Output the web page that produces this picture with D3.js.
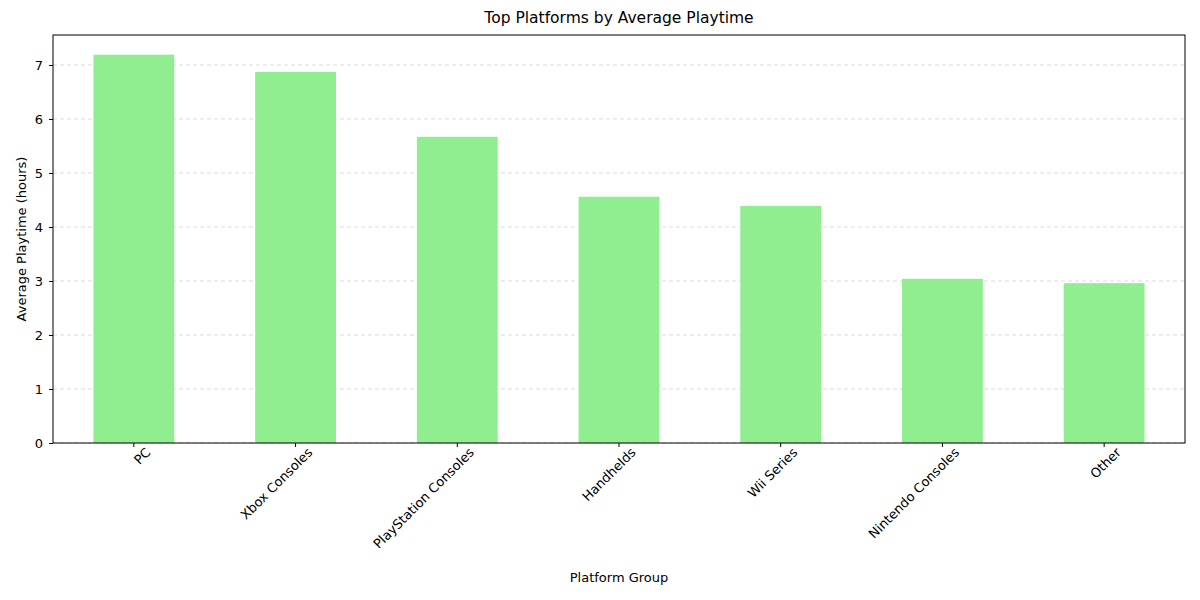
<!DOCTYPE html>
<html>
<head>
<meta charset="utf-8">
<script src="https://unpkg.com/d3@7/dist/d3.min.js"></script>
<style>
  body { margin: 0; background: #fff; }
  text { font-family: "DejaVu Sans", sans-serif; }
</style>
</head>
<body>
<div id="chart"></div>
<script>
  var platforms = ["PC", "Xbox Consoles", "PlayStation Consoles", "Handhelds", "Wii Series", "Nintendo Consoles", "Other"];
  var playtime = [7.19, 6.87, 5.67, 4.56, 4.39, 3.04, 2.96];
  var yTicks = [0, 1, 2, 3, 4, 5, 6, 7];

  var width = 1200, height = 600;
  var m = { left: 53, right: 15, top: 35, bottom: 157 };

  var svg = d3.select("#chart").append("svg")
    .attr("width", width).attr("height", height);

  var x = d3.scaleBand().domain(platforms)
    .range([m.left, width - m.right])
    .paddingInner(0.5).paddingOuter(0.25);
  var y = d3.scaleLinear().domain([0, 7.555])
    .range([height - m.bottom, m.top]);

  // grid
  svg.append("g").selectAll("line").data(yTicks).enter().append("line")
    .attr("x1", m.left).attr("x2", width - m.right)
    .attr("y1", d => y(d)).attr("y2", d => y(d))
    .style("stroke", "#d0d0d0").style("stroke-dasharray", "4 3").style("stroke-width", 0.8);

  // bars
  svg.append("g").selectAll("rect").data(platforms).enter().append("rect")
    .attr("x", d => x(d))
    .attr("width", x.bandwidth())
    .attr("y", (d, i) => y(playtime[i]))
    .attr("height", (d, i) => y(0) - y(playtime[i]))
    .style("fill", "#90ee90");

  // frame
  svg.append("rect")
    .attr("x", m.left).attr("y", m.top)
    .attr("width", width - m.left - m.right).attr("height", height - m.top - m.bottom)
    .style("fill", "none").style("stroke", "#000").style("stroke-width", 1);

  // y axis
  var ya = svg.append("g").attr("transform", "translate(" + m.left + ",0)")
    .call(d3.axisLeft(y).tickValues(yTicks).tickSize(4).tickPadding(6).tickFormat(d3.format("d")));
  ya.select(".domain").remove();
  ya.selectAll("text").style("font-size", "13px").style("font-family", "DejaVu Sans");

  // x axis
  var xa = svg.append("g").attr("transform", "translate(0," + (height - m.bottom) + ")")
    .call(d3.axisBottom(x).tickSize(4).tickPadding(4));
  xa.select(".domain").remove();
  xa.selectAll("text")
    .style("font-size", "13px").style("font-family", "DejaVu Sans")
    .style("text-anchor", "end")
    .attr("dx", "0.4em").attr("dy", "0.9em")
    .attr("transform", "rotate(-45)");

  svg.append("text").attr("x", (m.left + width - m.right) / 2).attr("y", 23)
    .attr("text-anchor", "middle").style("font-size", "15.5px")
    .text("Top Platforms by Average Playtime");
  svg.append("text").attr("x", (m.left + width - m.right) / 2).attr("y", 582)
    .attr("text-anchor", "middle").style("font-size", "13px")
    .text("Platform Group");
  svg.append("text").attr("transform", "translate(26," + ((m.top + height - m.bottom) / 2) + ") rotate(-90)")
    .attr("text-anchor", "middle").style("font-size", "13px")
    .text("Average Playtime (hours)");
</script>
</body>
</html>
